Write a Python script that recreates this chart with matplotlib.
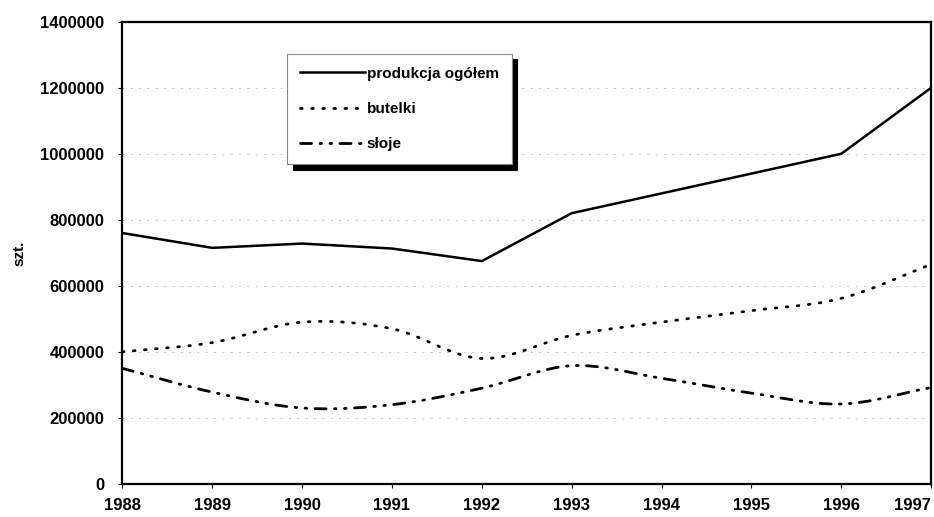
#!/usr/bin/env python3
"""Produkcja opakowań szklanych 1988-1997 (szt.) - line chart saved to out.png."""

import numpy as np
import matplotlib
matplotlib.use("Agg")
import matplotlib.pyplot as plt

years = [1988, 1989, 1990, 1991, 1992, 1993, 1994, 1995, 1996, 1997]
produkcja_ogolem = [760000, 715000, 728000, 713000, 675000, 820000, 880000, 940000, 1000000, 1200000]
butelki = [400000, 428000, 490000, 470000, 380000, 450000, 490000, 525000, 562000, 665000]
sloje = [350000, 278000, 230000, 240000, 290000, 358000, 320000, 275000, 242000, 292000]

y_ticks = [0, 200000, 400000, 600000, 800000, 1000000, 1200000, 1400000]


def smooth(x, y, n=20):
    # Catmull-Rom curve through the points, like Excel's "smoothed line"
    x = np.asarray(x, float)
    y = np.asarray(y, float)
    px = np.concatenate([[2 * x[0] - x[1]], x, [2 * x[-1] - x[-2]]])
    py = np.concatenate([[2 * y[0] - y[1]], y, [2 * y[-1] - y[-2]]])
    xs, ys = [], []
    t = np.linspace(0, 1, n, endpoint=False)
    for i in range(1, len(px) - 2):
        for p, out in ((px, xs), (py, ys)):
            p0, p1, p2, p3 = p[i - 1], p[i], p[i + 1], p[i + 2]
            out.extend(0.5 * (2 * p1 + (-p0 + p2) * t
                              + (2 * p0 - 5 * p1 + 4 * p2 - p3) * t ** 2
                              + (-p0 + 3 * p1 - 3 * p2 + p3) * t ** 3))
    xs.append(x[-1])
    ys.append(y[-1])
    return xs, ys


plt.rcParams["font.family"] = ["Liberation Sans", "DejaVu Sans"]
plt.rcParams["font.weight"] = "bold"

fig = plt.figure(figsize=(9.34, 5.17), dpi=100)
ax = fig.add_axes([0.131, 0.064, 0.866, 0.894])

ax.plot(years, produkcja_ogolem, color="black", lw=1.8, label="produkcja ogółem")
bx, by = smooth(years, butelki)
ax.plot(bx, by, color="black", lw=2.0, linestyle=(0, (0.6, 3.4)),
        dash_capstyle="round", label="butelki")
sx, sy = smooth(years, sloje)
ax.plot(sx, sy, color="black", lw=2.0, linestyle=(0, (4, 3, 0.6, 3, 0.6, 3)),
        dash_capstyle="round", label="słoje")

ax.set_xlim(years[0], years[-1])
ax.set_ylim(y_ticks[0], y_ticks[-1])
ax.set_xticks(years)
ax.set_yticks(y_ticks)
ax.set_yticklabels([str(v) for v in y_ticks])
ax.tick_params(axis="both", labelsize=12, length=3, width=0.8)
ax.tick_params(axis="x", pad=7)
ax.tick_params(axis="y", pad=10)
ax.get_xticklabels()[-1].set_horizontalalignment("right")
ax.set_ylabel("szt.", fontsize=11, fontweight="bold", labelpad=10)

ax.grid(axis="y", color="#b0b0b0", lw=0.6, linestyle=(0, (2, 8)))
ax.set_axisbelow(True)
for side in ["left", "bottom", "right", "top"]:
    ax.spines[side].set_linewidth(1.6)
    ax.spines[side].set_color("black")

leg = ax.legend(loc="upper left", bbox_to_anchor=(0.204, 0.931), fontsize=11,
                frameon=True, fancybox=False, handlelength=4.2, handletextpad=0.15,
                labelspacing=1.4, borderpad=0.85, borderaxespad=0,
                shadow={"color": "black", "alpha": 1, "ox": 4, "oy": -4})
leg.get_frame().set_edgecolor("#888888")
leg.get_frame().set_linewidth(0.8)

fig.savefig("out.png", dpi=100)
plt.close(fig)
